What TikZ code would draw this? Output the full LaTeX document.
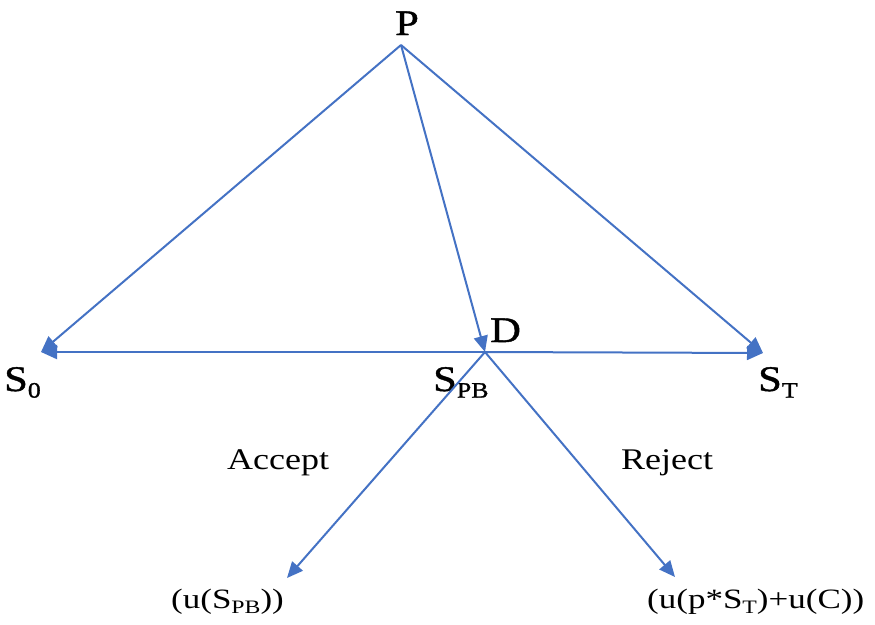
\documentclass[tikz,border=0pt]{standalone}
\usepackage{fontspec}
\setmainfont{Liberation Serif}
\newfontfamily\wideA[FakeStretch=1.18,FakeBold=1.2]{Liberation Serif}
\newfontfamily\wideB[FakeStretch=1.2]{Liberation Serif}
\newfontfamily\wideC[FakeStretch=1.25]{Liberation Serif}
\usetikzlibrary{arrows.meta}
\definecolor{lineblue}{HTML}{4472C4}
\newcommand{\sbs}[2]{{\fontsize{#1}{#1}\selectfont\raisebox{-0.3em}{#2}}}
\tikzset{
  conn/.style={draw=lineblue, line width=2pt, -{Triangle[length=16pt,width=14pt]}},
  big/.style={inner sep=0pt, font=\wideA\fontsize{36}{36}\selectfont},
  mid/.style={inner sep=0pt, font=\wideB\fontsize{30}{30}\selectfont},
  small/.style={inner sep=0pt, font=\wideC\fontsize{28}{28}\selectfont}
}
\begin{document}
\begin{tikzpicture}[x=1pt,y=-1pt]
\useasboundingbox (0,0) rectangle (875,624);
% anchor points
\coordinate (p) at (401,45);
\coordinate (d) at (485,352);
\coordinate (s0) at (41,352);
\coordinate (st) at (763,353);
\coordinate (acc) at (287,578);
\coordinate (rej) at (675,577);
% labels
\node[big, anchor=base west] (Plab) at (395,35) {P};
\node[big, anchor=base west] (Dlab) at (490,342) {D};
\node[big, anchor=base west] (S0lab) at (4,391) {S\sbs{22}{0}};
\node[big, anchor=base west] (SPBlab) at (433,391) {S\sbs{22}{PB}};
\node[big, anchor=base west] (STlab) at (758,391) {S\sbs{22}{T}};
\node[mid, anchor=base west] (acclab) at (227,469) {Accept};
\node[mid, anchor=base west] (rejlab) at (621,469) {Reject};
\node[small, anchor=base west] (ulab1) at (171,608) {(u(S\sbs{19}{PB}))};
\node[small, anchor=base west] (ulab2) at (647,608) {(u(p*S\sbs{19}{T})+u(C))};
% connectors
\draw[conn] (p) -- (s0);
\draw[conn] (p) -- (st);
\draw[conn] (p) -- (d);
\draw[conn] (d) -- (s0);
\draw[conn] (d) -- (st);
\draw[conn] (d) -- (acc);
\draw[conn] (d) -- (rej);
\end{tikzpicture}
\end{document}
